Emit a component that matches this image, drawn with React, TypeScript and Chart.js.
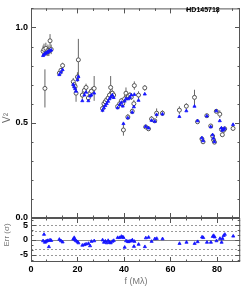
import React, { useEffect, useRef } from 'react';
import { Chart, registerables } from 'chart.js';

Chart.register(...registerables);

// Spatial frequency (Mλ)
const freq = [
  5.2, 5.6, 6.0, 6.4, 6.9, 7.3, 7.7, 8.2, 8.7,
  12.2, 12.9, 13.6,
  18.2, 18.6, 19.0, 19.4, 20.0, 20.4,
  22.1, 23.0, 23.7, 24.7, 25.4, 26.0, 27.2,
  30.8, 31.4, 32.0, 32.6, 33.2, 33.8, 34.3, 35.0, 35.6,
  37.3, 38.2, 38.9, 39.5, 39.8, 40.3, 40.9, 41.7, 41.9, 42.6, 43.2, 43.6, 44.3, 44.5, 46.3,
  49.0, 49.4, 50.6, 51.9, 53.3, 54.1, 56.6,
  63.9, 66.9, 70.4, 71.7, 73.6, 74.1, 75.7, 77.4, 78.2, 78.6, 79.0, 79.8,
  81.3, 82.0, 82.4, 82.9, 83.4, 87.0,
];
// Observed squared visibility
const v2Obs = [
  0.875, 0.885, 0.68, 0.89, 0.87, 0.88, 0.875, 0.93, 0.885,
  0.76, 0.775, 0.80,
  0.715, 0.70, 0.69, 0.655, 0.74, 0.83,
  0.645, 0.67, 0.685, 0.63, 0.655, 0.665, 0.68,
  0.575, 0.60, 0.61, 0.62, 0.63, 0.645, 0.685, 0.655, 0.645,
  0.585, 0.60, 0.615, 0.60, 0.462, 0.625, 0.655, 0.53, 0.64, 0.645, 0.635, 0.56, 0.60, 0.695, 0.645,
  0.683, 0.478, 0.468, 0.52, 0.51, 0.55, 0.55,
  0.566, 0.587, 0.633, 0.505, 0.415, 0.40, 0.537, 0.483, 0.43, 0.41, 0.398, 0.56,
  0.545, 0.465, 0.437, 0.46, 0.468, 0.47,
];
// 1-sigma errors of observed V²
const v2Err = [
  0.03, 0.03, 0.10, 0.03, 0.02, 0.03, 0.025, 0.035, 0.025,
  0.012, 0.012, 0.015,
  0.02, 0.02, 0.02, 0.045, 0.025, 0.11,
  0.02, 0.02, 0.02, 0.015, 0.02, 0.02, 0.065,
  0.02, 0.02, 0.02, 0.015, 0.02, 0.02, 0.06, 0.02, 0.02,
  0.015, 0.015, 0.015, 0.02, 0.03, 0.02, 0.03, 0.015, 0.015, 0.015, 0.015, 0.015, 0.02, 0.022, 0.02,
  0.015, 0.01, 0.01, 0.015, 0.01, 0.025, 0.015,
  0.02, 0.015, 0.04, 0.01, 0.01, 0.01, 0.01, 0.01, 0.01, 0.01, 0.01, 0.01,
  0.02, 0.01, 0.01, 0.01, 0.01, 0.01,
];
// Model squared visibility
const v2Model = [
  0.852, 0.858, 0.862, 0.866, 0.868, 0.872, 0.875, 0.878, 0.881,
  0.752, 0.765, 0.778,
  0.70, 0.688, 0.678, 0.665, 0.725, 0.742,
  0.615, 0.645, 0.66, 0.615, 0.64, 0.645, 0.655,
  0.565, 0.578, 0.59, 0.60, 0.612, 0.625, 0.635, 0.645, 0.632,
  0.578, 0.595, 0.606, 0.587, 0.495, 0.613, 0.625, 0.525, 0.625, 0.633, 0.645, 0.555, 0.583, 0.648, 0.617,
  0.65, 0.48, 0.472, 0.512, 0.507, 0.542, 0.545,
  0.532, 0.562, 0.586, 0.51, 0.42, 0.405, 0.535, 0.478, 0.436, 0.418, 0.40, 0.562,
  0.51, 0.472, 0.46, 0.465, 0.47, 0.49,
];
// Residuals (σ)
const resid = [
  -0.3, 1.9, -0.8, -0.5, -0.3, -0.2, -2.3, 0.0, -0.2,
  0.2, -0.3, -0.7,
  0.3, 0.8, 0.0, -0.3, -0.6, -1.0,
  -1.8, -1.6, -1.4, -1.2, -2.0, -0.5, -0.3,
  0.0, -0.8, -0.4, -1.0, -0.2, -0.8, -1.0, -0.5, -0.2,
  0.8, 0.8, 1.2, 1.0, 0.8, -2.5, -0.3, -0.5, -0.6, -0.4, -0.3, 0.0, -2.2, -0.5, -1.5,
  -2.3, 0.7, 0.9, -0.5, 0.4, 0.5, 0.4,
  -1.2, -0.8, -1.2, -0.6, 1.0, 0.8, -0.8, -0.8, 1.2, 1.5, 1.0, -0.3,
  0.5, -0.8, 0.5, 1.5, 1.9, 1.3,
];

const V2_TICKS = [0, 0.5, 1.0];
const ERR_TICKS = [-5, 0, 5];
const F_TICKS = [0, 20, 40, 60, 80];
const ERR_DASHED = [-5, -3, 3, 5];

const BLUE = '#1414ff';
const OBS_GRAY = '#555555';
const FRAME = '#555555';
const FONT = "'Liberation Sans', Arial, Helvetica, sans-serif";

function drawFrame(chart: any, yMajor: number, yMinor: number) {
  const { ctx, chartArea } = chart;
  const xs = chart.scales.x;
  const ys = chart.scales.y;
  const { left, right, top, bottom } = chartArea;
  ctx.save();
  ctx.strokeStyle = FRAME;
  ctx.lineWidth = 1;
  ctx.strokeRect(left + 0.5, top + 0.5, right - left - 1, bottom - top - 1);
  ctx.beginPath();
  const xMinor = 20 / 3;
  for (let k = 0; k * xMinor <= xs.max + 1e-6; k++) {
    const v = k * xMinor;
    const major = k % 3 === 0;
    const len = major ? 5 : 2.5;
    const px = Math.round(xs.getPixelForValue(v)) + 0.5;
    ctx.moveTo(px, bottom);
    ctx.lineTo(px, bottom - len);
    ctx.moveTo(px, top);
    ctx.lineTo(px, top + len);
  }
  const kMin = Math.ceil(ys.min / yMinor - 1e-6);
  const kMax = Math.floor(ys.max / yMinor + 1e-6);
  for (let k = kMin; k <= kMax; k++) {
    const v = k * yMinor;
    const r = v / yMajor;
    const major = Math.abs(r - Math.round(r)) < 1e-6;
    const len = major ? 5 : 2.5;
    const py = Math.round(ys.getPixelForValue(v)) + 0.5;
    ctx.moveTo(left, py);
    ctx.lineTo(left + len, py);
    ctx.moveTo(right, py);
    ctx.lineTo(right - len, py);
  }
  ctx.stroke();
  ctx.restore();
}

function drawVText(ctx: any, text: string, x: number, y: number, font: string, color: string) {
  ctx.save();
  ctx.translate(x, y);
  ctx.rotate(-Math.PI / 2);
  ctx.font = font;
  ctx.fillStyle = color;
  ctx.textAlign = 'center';
  ctx.textBaseline = 'middle';
  ctx.fillText(text, 0, 0);
  ctx.restore();
}

const errorBarPlugin = {
  id: 'errorBars',
  beforeDatasetsDraw(chart: any) {
    const { ctx } = chart;
    const xs = chart.scales.x;
    const ys = chart.scales.y;
    ctx.save();
    ctx.strokeStyle = '#666666';
    ctx.lineWidth = 1;
    ctx.beginPath();
    for (let i = 0; i < freq.length; i++) {
      const px = xs.getPixelForValue(freq[i]);
      ctx.moveTo(px, ys.getPixelForValue(v2Obs[i] - v2Err[i]));
      ctx.lineTo(px, ys.getPixelForValue(v2Obs[i] + v2Err[i]));
    }
    ctx.stroke();
    ctx.restore();
  },
};

const topDecorPlugin = {
  id: 'topDecor',
  afterDraw(chart: any) {
    drawFrame(chart, 0.5, 0.1);
    const { ctx } = chart;
    ctx.save();
    ctx.font = `bold 7px ${FONT}`;
    ctx.fillStyle = '#000';
    ctx.textAlign = 'center';
    ctx.textBaseline = 'middle';
    ctx.fillText('HD145718', 203, 10);
    ctx.restore();
    drawVText(ctx, 'V²', 7, 118, `10px ${FONT}`, '#666666');
  },
};

const guidePlugin = {
  id: 'guides',
  beforeDatasetsDraw(chart: any) {
    const { ctx, chartArea } = chart;
    const ys = chart.scales.y;
    ctx.save();
    ctx.lineWidth = 1;
    ctx.strokeStyle = '#888888';
    ctx.beginPath();
    const y0 = Math.round(ys.getPixelForValue(0)) + 0.5;
    ctx.moveTo(chartArea.left, y0);
    ctx.lineTo(chartArea.right, y0);
    ctx.stroke();
    ctx.setLineDash([2, 2]);
    ctx.strokeStyle = '#999999';
    ctx.beginPath();
    for (const v of ERR_DASHED) {
      const py = Math.round(ys.getPixelForValue(v)) + 0.5;
      ctx.moveTo(chartArea.left, py);
      ctx.lineTo(chartArea.right, py);
    }
    ctx.stroke();
    ctx.restore();
  },
};

const bottomDecorPlugin = {
  id: 'bottomDecor',
  afterDatasetsDraw(chart: any) {
    drawFrame(chart, 5, 5 / 3);
    const { ctx } = chart;
    drawVText(ctx, 'Err (σ)', 7, 235, `8px ${FONT}`, '#777777');
    ctx.save();
    ctx.font = `9px ${FONT}`;
    ctx.fillStyle = '#777777';
    ctx.textAlign = 'center';
    ctx.textBaseline = 'middle';
    ctx.fillText('f (Mλ)', 136, 282);
    ctx.restore();
  },
};

const tickFont = { family: FONT, size: 9, weight: 'bold' as const };

export default function App() {
  const topRef = useRef<HTMLCanvasElement>(null);
  const botRef = useRef<HTMLCanvasElement>(null);

  useEffect(() => {
    if (!topRef.current || !botRef.current) return;
    const bot = new Chart(botRef.current, {
      type: 'scatter',
      data: {
        datasets: [
          {
            label: 'Residual',
            data: freq.map((f, i) => ({ x: f, y: resid[i] })),
            pointStyle: 'triangle',
            pointRadius: 1.8,
            backgroundColor: BLUE,
            borderColor: BLUE,
            borderWidth: 0.8,
          },
        ],
      },
      options: {
        responsive: false,
        animation: false,
        events: [],
        layout: { padding: { top: 218, bottom: 0, left: 0, right: 4 } },
        plugins: { legend: { display: false }, tooltip: { enabled: false } },
        scales: {
          x: {
            type: 'linear',
            min: 0,
            max: 90,
            afterFit: (s: any) => { s.height = 25; },
            afterBuildTicks: (s: any) => { s.ticks = F_TICKS.map((v) => ({ value: v })); },
            grid: { display: false, drawTicks: false },
            border: { display: false },
            ticks: { padding: 2, color: '#000', font: tickFont, maxRotation: 0, autoSkip: false },
          },
          y: {
            type: 'linear',
            min: -7.5,
            max: 7.5,
            afterFit: (s: any) => { s.width = 31; },
            afterBuildTicks: (s: any) => { s.ticks = ERR_TICKS.map((v) => ({ value: v })); },
            grid: { display: false, drawTicks: false },
            border: { display: false },
            ticks: { padding: 3, color: '#000', font: tickFont, autoSkip: false, callback: (v: any) => String(v) },
          },
        },
      },
      plugins: [guidePlugin, bottomDecorPlugin],
    } as any);

    const top = new Chart(topRef.current, {
      type: 'scatter',
      data: {
        datasets: [
          {
            label: 'Model',
            data: freq.map((f, i) => ({ x: f, y: v2Model[i] })),
            pointStyle: 'triangle',
            pointRadius: 1.8,
            backgroundColor: BLUE,
            borderColor: BLUE,
            borderWidth: 0.8,
          },
          {
            label: 'Observed',
            data: freq.map((f, i) => ({ x: f, y: v2Obs[i] })),
            pointStyle: 'circle',
            pointRadius: 2,
            backgroundColor: '#ffffff',
            borderColor: OBS_GRAY,
            borderWidth: 1,
          },
        ],
      },
      options: {
        responsive: false,
        animation: false,
        events: [],
        layout: { padding: { top: 1, bottom: 69, left: 0, right: 4 } },
        plugins: { legend: { display: false }, tooltip: { enabled: false } },
        scales: {
          x: { type: 'linear', min: 0, max: 90, display: false },
          y: {
            type: 'linear',
            min: 0,
            max: 1.1,
            afterFit: (s: any) => { s.width = 31; },
            afterBuildTicks: (s: any) => { s.ticks = V2_TICKS.map((v) => ({ value: v })); },
            grid: { display: false, drawTicks: false },
            border: { display: false },
            ticks: {
              padding: 3,
              color: '#000',
              font: tickFont,
              autoSkip: false,
              callback: (v: any) => Number(v).toFixed(1),
            },
          },
        },
      },
      plugins: [errorBarPlugin, topDecorPlugin],
    } as any);

    return () => {
      top.destroy();
      bot.destroy();
    };
  }, []);

  return (
    <div style={{ position: 'absolute', left: 0, top: 0, width: 245, height: 287, background: '#fff' }}>
      <canvas ref={botRef} width={245} height={287} style={{ position: 'absolute', left: 0, top: 0 }} />
      <canvas ref={topRef} width={245} height={287} style={{ position: 'absolute', left: 0, top: 0 }} />
    </div>
  );
}
